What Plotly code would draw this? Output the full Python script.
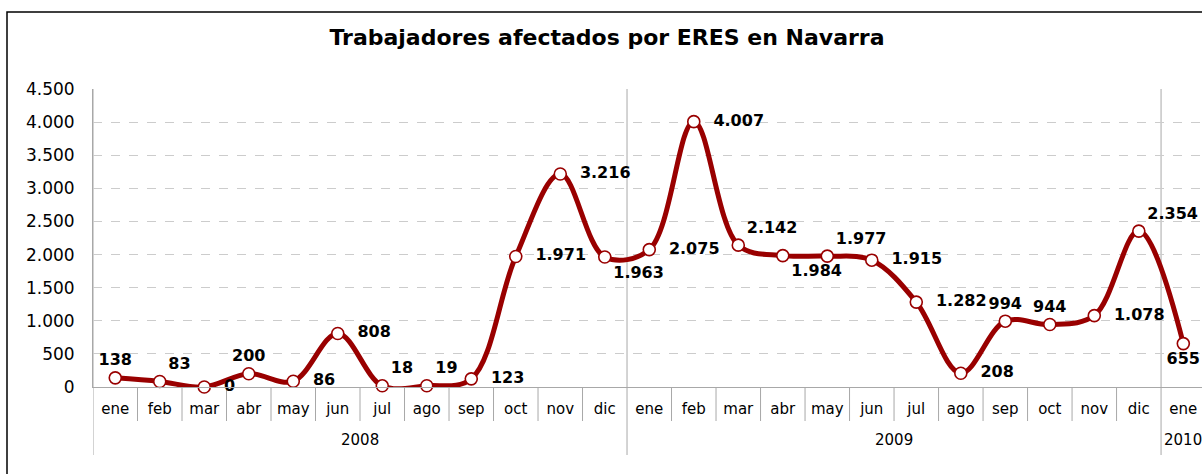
import plotly.graph_objects as go

# ---- data ----
years = ["2008"] * 12 + ["2009"] * 12 + ["2010"]
months = ["ene", "feb", "mar", "abr", "may", "jun", "jul", "ago", "sep", "oct", "nov", "dic"] * 2 + ["ene"]
values = [138, 83, 0, 200, 86, 808, 18, 19, 123, 1971, 3216, 1963,
          2075, 4007, 2142, 1984, 1977, 1915, 1282, 208, 994, 944, 1078, 2354,
          655]
label_pos = ["top center", "top right", "middle right", "top center", "middle right", "middle right",
             "top right", "top right", "middle right", "middle right", "middle right", "bottom right",
             "middle right", "middle right", "top right", "bottom right", "top right", "middle right",
             "middle right", "middle right", "top center", "top center", "middle right", "top right",
             "bottom center"]
y_ticks = [0, 500, 1000, 1500, 2000, 2500, 3000, 3500, 4000, 4500]
title = "Trabajadores afectados por ERES en Navarra"

# derived helpers
cat_ids = [f"{m} {y}" for m, y in zip(months, years)]
labels = [f"{v:,}".replace(",", ".") for v in values]
# a little breathing room between marker and labels placed to its right
labels = [("\u00a0\u00a0" + t) if p == "middle right" else t for t, p in zip(labels, label_pos)]
year_names = list(dict.fromkeys(years))
year_centers = [(years.index(y) + len(years) - 1 - years[::-1].index(y)) / 2 for y in year_names]
year_bounds = [years.index(y) - 0.5 for y in year_names]
month_bounds = [i + 0.5 for i in range(len(years)) if i + 1 < len(years) and years[i + 1] == years[i]]
month_bounds.append(len(years) - 0.5)

RED = "#990000"
AX = "#a8a8a8"
XR = [-0.5, 24.42]
PLOT_H = 298  # plot-area height in px, used to express pixel offsets below the axis
TICKFONT = dict(family="DejaVu Sans", size=15, color="black")

fig = go.Figure()
fig.add_trace(go.Scatter(
    x=cat_ids, y=values,
    mode="lines+markers+text",
    line=dict(color=RED, width=5, shape="spline", smoothing=1.0),
    marker=dict(size=12, color="white", line=dict(color=RED, width=1.6)),
    text=labels, textposition=label_pos,
    textfont=dict(family="DejaVu Sans", size=16, color="black", weight="bold"),
    cliponaxis=False, showlegend=False,
))

shapes = []
# month separators in the label band
for b in month_bounds:
    shapes.append(dict(type="line", xref="x", yref="paper", x0=b, x1=b, y0=0, y1=-34 / PLOT_H,
                       line=dict(color=AX, width=1), layer="below"))
# year separators: through the plot and down through both label rows
for b in year_bounds:
    shapes.append(dict(type="line", xref="x", yref="paper", x0=b, x1=b, y0=1, y1=-68 / PLOT_H,
                       line=dict(color=AX, width=1), layer="below"))
# outer chart frame
shapes.append(dict(type="rect", xref="paper", yref="paper",
                   x0=(7 - 93) / 1109, x1=1.05, y0=-0.4, y1=(387 - 12) / PLOT_H,
                   line=dict(color="black", width=1.5), fillcolor="rgba(0,0,0,0)", layer="below"))

annotations = [dict(text=y, x=c, xref="x", y=-53 / PLOT_H, yref="paper",
                    xanchor="center", yanchor="middle", showarrow=False, font=TICKFONT)
               for y, c in zip(year_names, year_centers)]

fig.update_layout(
    width=1202, height=474,
    margin=dict(l=93, r=0, t=89, b=87, autoexpand=False),
    paper_bgcolor="white", plot_bgcolor="white",
    separators=",.",
    title=dict(text="<b>" + title + "</b>", x=0.505, xanchor="center",
               y=1 - 37 / 474, yanchor="middle", yref="container", automargin=False,
               font=dict(family="DejaVu Sans", size=22, color="black")),
    xaxis=dict(type="category", range=XR, automargin=False,
               tickvals=cat_ids, ticktext=months,
               showline=True, linecolor=AX, linewidth=1,
               ticks="", ticklabelstandoff=8, showgrid=False,
               tickfont=TICKFONT),
    yaxis=dict(range=[0, 4500], tickvals=y_ticks, tickformat=",d", automargin=False,
               showgrid=True, gridcolor="#cccccc", griddash="dash", gridwidth=1,
               showline=True, linecolor=AX, linewidth=1, zeroline=False,
               ticks="", ticklabelstandoff=14,
               tickfont=dict(family="DejaVu Sans", size=17, color="black")),
    shapes=shapes,
    annotations=annotations,
)

fig.write_html("out.html", config={"displayModeBar": False},
               post_script="document.body.style.margin='0';")
